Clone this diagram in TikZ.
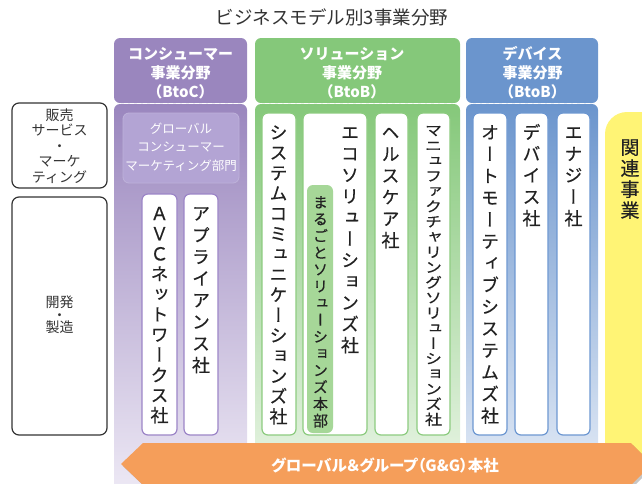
\documentclass[tikz,border=0pt]{standalone}
\usepackage{fontspec}
\usepackage{graphicx}
\setmainfont{Noto Sans CJK JP}
\newfontfamily\jpv[RawFeature=+vert, FakeBold=0.4]{Noto Sans CJK JP}
\newfontfamily\jpp[RawFeature=+palt]{Noto Sans CJK JP}
\definecolor{purpleH}{HTML}{9A86BE}
\definecolor{purpleL}{HTML}{EFEBF6}
\definecolor{purpleS}{HTML}{B3A4D4}
\definecolor{purpleB}{HTML}{9C85C7}
\definecolor{greenH}{HTML}{85C87A}
\definecolor{greenL}{HTML}{EEF7EB}
\definecolor{greenS}{HTML}{A6D798}
\definecolor{greenB}{HTML}{8CCB7F}
\definecolor{blueH}{HTML}{6B95CD}
\definecolor{blueL}{HTML}{E9EFF8}
\definecolor{blueB}{HTML}{6D97D1}
\definecolor{yel}{HTML}{FFF475}
\definecolor{orng}{HTML}{F59E5A}
\definecolor{dark}{HTML}{333333}
\definecolor{txt}{HTML}{222222}
\def\vsend{\vsend}
\newcommand\vtxt[2]{\vbox{\baselineskip=#1\lineskiplimit=-1000pt\lineskip=0pt\vsloop#2\vsend}}
\def\vsloop#1{\ifx#1\vsend\else\hbox to 1em{\hss\vrule height .88em depth .12em width 0pt\relax#1\hss}\expandafter\vsloop\fi}
\tikzset{
  hdrtext/.style={text=white, align=center, font=\bfseries\fontsize{15}{19}\selectfont, inner sep=0pt},
  subtext/.style={text=white, align=center, font=\fontsize{12.5}{18.5}\selectfont, inner sep=0pt},
  lefttext/.style={text=dark, align=center, inner sep=0pt},
  vt/.style={inner sep=0pt, anchor=north, text=txt, font=\jpv\fontsize{18}{20}\selectfont},
  wbox/.style={draw=#1, fill=white, line width=1.2pt, rounded corners=6pt},
  hdr/.style={fill=#1, rounded corners=6pt},
  sep/.style={white, line width=1.3pt, dash pattern=on 4pt off 2.5pt},
}
\begin{document}
\begin{tikzpicture}[x=1pt,y=-1pt]
\useasboundingbox (0,0) rectangle (642,483);
\clip (0,0) rectangle (642,483);

\node[text=dark, font=\fontsize{18.5}{20}\selectfont] (title) at (332,17) {ビジネスモデル別3事業分野};

% column backgrounds
\shade[top color=purpleH, bottom color=purpleL, rounded corners=6pt] (114,104) rectangle (247,500);
\fill[hdr=purpleH] (114,38) rectangle (247,103);
\draw[sep] (117,103.5) -- (244,103.5);
\shade[top color=greenH, bottom color=greenL, rounded corners=6pt] (255,104) rectangle (460,500);
\fill[hdr=greenH] (255,38) rectangle (460,103);
\draw[sep] (258,103.5) -- (457,103.5);
\shade[top color=blueH, bottom color=blueL, rounded corners=6pt] (466,104) rectangle (598,500);
\fill[hdr=blueH] (466,38) rectangle (598,103);
\draw[sep] (469,103.5) -- (595,103.5);

\node[hdrtext] (hp) at (180.5,73) {コンシューマー\\事業分野\\（BtoC）};
\node[hdrtext] (hg) at (352,73) {ソリューション\\事業分野\\（BtoB）};
\node[hdrtext] (hb) at (532.5,73) {デバイス\\事業分野\\（BtoB）};

% related business
\fill[yel, rounded corners=22pt] (605,112) rectangle (700,472);
\node[vt, font=\jpv\fontsize{19}{21}\selectfont] (rel) at (630,137.5) {\vtxt{21pt}{関連事業}};

% left labels
\draw[dark, line width=1.2pt, rounded corners=7pt] (12,103) rectangle (107,188);
\node[lefttext, font=\fontsize{14}{15.5}\selectfont] (sales) at (59.5,146) {販売\\サービス\\・\\マーケ\\ティング};
\draw[dark, line width=1.2pt, rounded corners=7pt] (12,197) rectangle (107,435);
\node[lefttext, font=\fontsize{14}{12.5}\selectfont] (dev) at (59.5,315) {開発\\・\\製造};

% purple column
\draw[fill=purpleS, draw=purpleS!85!white, line width=0.8pt, rounded corners=6pt] (123,113) rectangle (239,183);
\node[subtext] (gcm) at (181,147) {グローバル\\コンシューマー\\マーケティング部門};
\draw[wbox=purpleB] (142,194) rectangle (177,435);
\draw[wbox=purpleB] (184,194) rectangle (218,435);
\node[vt] (avc) at (159.5,204) {\vtxt{20.2pt}{ＡＶＣネットワークス社}};
\node[vt] (app) at (201,204) {\vtxt{21.7pt}{アプライアンス社}};

% green column
\draw[wbox=greenB] (262,113) rectangle (296,435);
\draw[wbox=greenB] (303,113) rectangle (367,435);
\draw[wbox=greenB] (375,113) rectangle (408,435);
\draw[wbox=greenB] (417,113) rectangle (450,435);
\fill[greenS, rounded corners=6pt] (307,185) rectangle (333,433);
\node[vt] (sys) at (278.5,123) {\vtxt{20.3pt}{システムコミュニケーションズ社}};
\node[vt] (eco) at (350,123) {\vtxt{21.3pt}{エコソリューションズ社}};
\node[vt, font=\jpv\fontsize{15}{17}\selectfont] (maru) at (320.5,194.5) {\vtxt{16.8pt}{まるごとソリューションズ本部}};
\node[vt] (hc) at (390.5,123) {\vtxt{21.6pt}{ヘルスケア社}};
\node[vt, font=\jpv\fontsize{17}{18}\selectfont] (mfg) at (433.5,122.8) {\scalebox{1}[0.85]{\vtxt{17.9pt}{マニュファクチャリングソリューションズ社}}};

% blue column
\draw[wbox=blueB] (473,113) rectangle (507,435);
\draw[wbox=blueB] (515,113) rectangle (548,435);
\draw[wbox=blueB] (557,113) rectangle (590,435);
\node[vt] (auto) at (490,123) {\vtxt{21.8pt}{オートモーティブシステムズ社}};
\node[vt] (devc) at (531.5,123) {\vtxt{21.5pt}{デバイス社}};
\node[vt] (enr) at (573.5,123) {\vtxt{21.5pt}{エナジー社}};

% bottom arrow
\fill[black, opacity=.22] (123,466) -- (145,445) -- (633,445) -- (654,466) -- (633,487) -- (145,487) -- cycle;
\fill[orng] (121,464) -- (143,443) -- (631,443) -- (652,464) -- (631,485) -- (143,485) -- cycle;
\node[text=white, font=\jpp\bfseries\fontsize{15.5}{17}\selectfont] (gg) at (385,465) {グローバル＆グループ（G\&G）本社};
\end{tikzpicture}
\end{document}
